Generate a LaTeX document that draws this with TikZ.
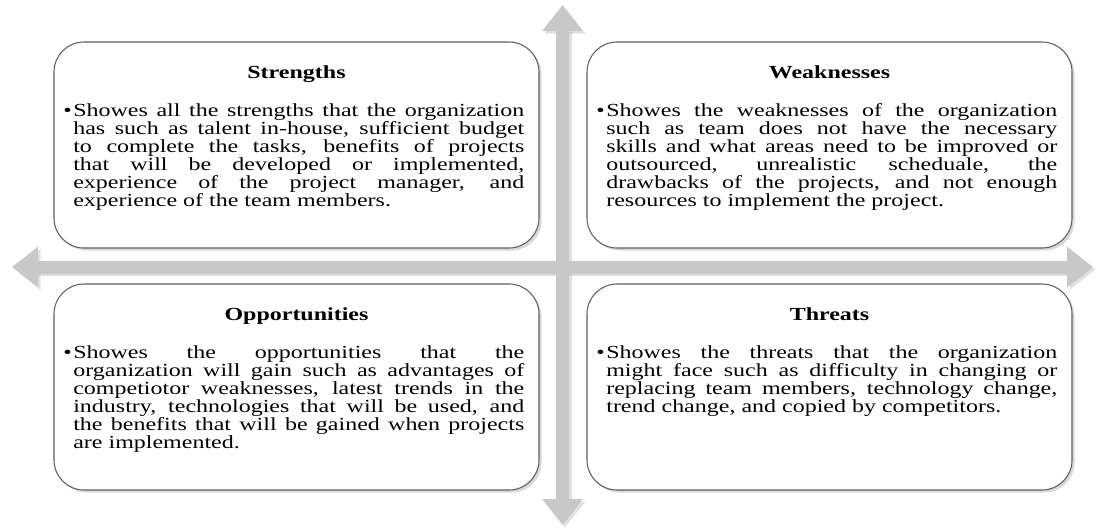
\documentclass[tikz,border=0pt]{standalone}
\usepackage{fontspec}
\setmainfont{Liberation Serif}[FakeStretch=1.3]
\definecolor{AxisGray}{RGB}{200, 200, 200}
\definecolor{EdgeGray}{RGB}{95, 95, 95}
\usetikzlibrary{arrows.meta, positioning, shadows}

% bullet hangs in the left margin of the text block
\newcommand{\swotitem}[1]{\tolerance=10000\hyphenpenalty=10000%
    \lineskiplimit=-20pt\baselineskip=10.2pt%
    \noindent\llap{\makebox[0.2cm][l]{\textbullet}}#1\par}

\begin{document}
\begin{tikzpicture}[
        box/.style={rectangle, draw=EdgeGray, line width=0.6pt, fill=white, rounded corners=0.6cm,
            minimum width=9.7cm, minimum height=4.12cm,
            drop shadow={shadow xshift=0.05cm, shadow yshift=-0.05cm, opacity=0.3}},
        title/.style={font=\fontsize{10.5}{10.2}\selectfont\bfseries, inner sep=0pt},
        body/.style={text width=9.02cm, align=justify, inner sep=0pt, font=\fontsize{10.5}{10.2}\selectfont},
        axis/.style={draw=AxisGray, line width=0.26cm,
            {Triangle[width=0.78cm,length=0.52cm]}-{Triangle[width=0.78cm,length=0.52cm]}},
        axisshadow/.style={axis, draw=black, opacity=0.12}
    ]
        \useasboundingbox (0,0) rectangle (22.06,10.58);

        % the cross behind the four boxes
        \coordinate (up) at (11.25,10.48);
        \coordinate (down) at (11.25,0.08);
        \coordinate (left) at (0.24,5.24);
        \coordinate (right) at (21.86,5.24);
        \draw[axisshadow, transform canvas={shift={(0.05,-0.05)}}] (up) -- (down);
        \draw[axisshadow, transform canvas={shift={(0.05,-0.05)}}] (left) -- (right);
        \draw[axis] (up) -- (down);
        \draw[axis] (left) -- (right);

        % boxes
        \node[box] (s) at (5.93,7.68) {};
        \node[box] (w) at (16.59,7.68) {};
        \node[box] (o) at (5.93,2.84) {};
        \node[box] (t) at (16.59,2.84) {};

        \node[title, below=0.47cm of s.north] (stitle) {Strengths};
        \node[title, below=0.47cm of w.north] (wtitle) {Weaknesses};
        \node[title, below=0.47cm of o.north] (otitle) {Opportunities};
        \node[title, below=0.47cm of t.north] (ttitle) {Threats};

        \node[body, below right=1.24cm and 0.39cm of s.north west] (sbody) {\swotitem{Showes all the strengths that the organization\linebreak
            has such as talent in-house, sufficient budget\linebreak
            to complete the tasks, benefits of projects\linebreak
            that will be developed or implemented,\linebreak
            experience of the project manager, and\linebreak
            experience of the team members.}};
        \node[body, below right=1.24cm and 0.39cm of w.north west] (wbody) {\swotitem{Showes the weaknesses of the organization\linebreak
            such as team does not have the necessary\linebreak
            skills and what areas need to be improved or\linebreak
            outsourced, unrealistic scheduale, the\linebreak
            drawbacks of the projects, and not enough\linebreak
            resources to implement the project.}};
        \node[body, below right=1.24cm and 0.39cm of o.north west] (obody) {\swotitem{Showes the opportunities that the\linebreak
            organization will gain such as advantages of\linebreak
            competiotor weaknesses, latest trends in the\linebreak
            industry, technologies that will be used, and\linebreak
            the benefits that will be gained when projects\linebreak
            are implemented.}};
        \node[body, below right=1.24cm and 0.39cm of t.north west] (tbody) {\swotitem{Showes the threats that the organization\linebreak
            might face such as difficulty in changing or\linebreak
            replacing team members, technology change,\linebreak
            trend change, and copied by competitors.}};
    \end{tikzpicture}
\end{document}
